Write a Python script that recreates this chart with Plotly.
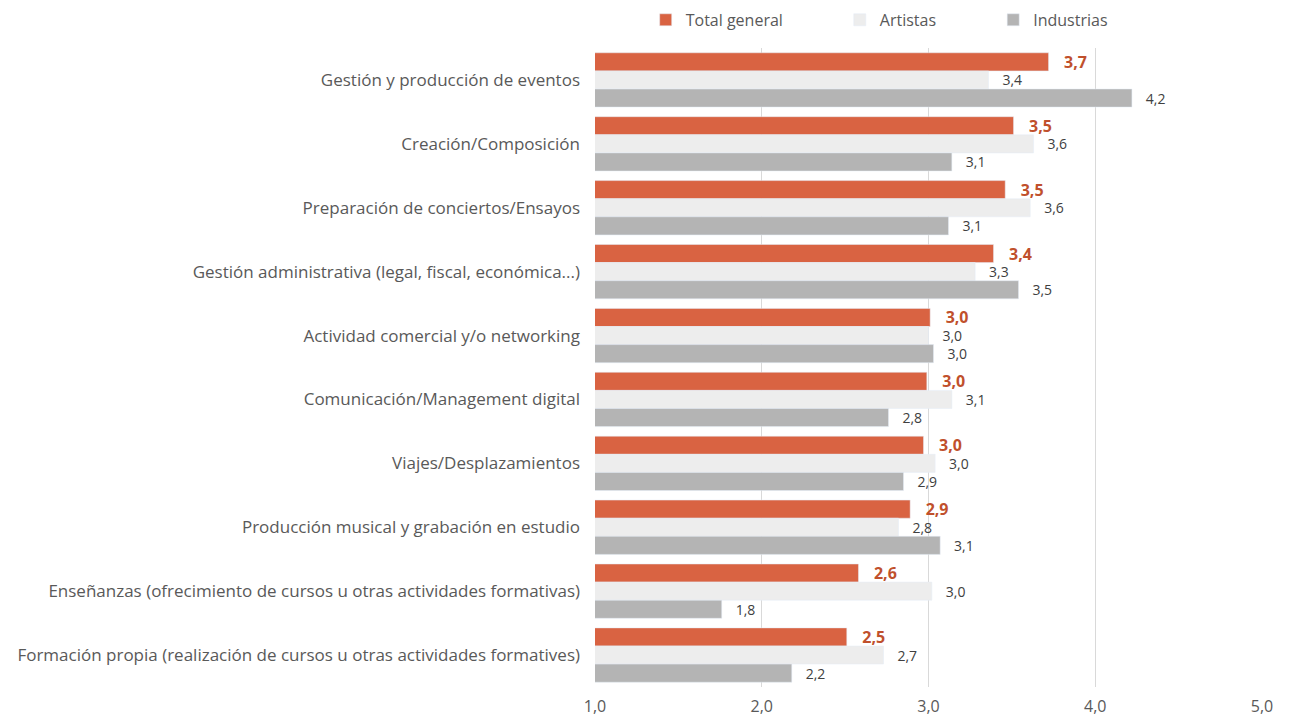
import plotly.graph_objects as go

categorias = [
    "Gestión y producción de eventos",
    "Creación/Composición",
    "Preparación de conciertos/Ensayos",
    "Gestión administrativa (legal, fiscal, económica...)",
    "Actividad comercial y/o networking",
    "Comunicación/Management digital",
    "Viajes/Desplazamientos",
    "Producción musical y grabación en estudio",
    "Enseñanzas (ofrecimiento de cursos u otras actividades formativas)",
    "Formación propia (realización de cursos u otras actividades formatives)",
]
total_general = [3.72, 3.51, 3.46, 3.39, 3.01, 2.99, 2.97, 2.89, 2.58, 2.51]
artistas = [3.36, 3.63, 3.61, 3.28, 3.00, 3.14, 3.04, 2.82, 3.02, 2.73]
industrias = [4.22, 3.14, 3.12, 3.54, 3.03, 2.76, 2.85, 3.07, 1.76, 2.18]
ticks = [1, 2, 3, 4, 5]

FONT = "Open Sans"
GRIS = "#595959"
PAD = "\u00a0\u00a0\u00a0"  # hueco entre barra y etiqueta

fig = go.Figure()
fig.add_trace(go.Bar(
    y=categorias, x=total_general, name="Total general", orientation="h",
    marker_color="#D96342", texttemplate=PAD + "%{x:.1f}", textposition="outside",
    textfont=dict(family=FONT, size=16, color="#C0502C", weight="bold"),
    legend="legend", cliponaxis=False, constraintext="none", showlegend=True,
))
fig.add_trace(go.Bar(
    y=categorias, x=artistas, name="Artistas", orientation="h",
    marker_color="#EDEDED", texttemplate=PAD + "%{x:.1f}", textposition="outside",
    textfont=dict(family=FONT, size=14, color="#404040"),
    legend="legend2", cliponaxis=False, constraintext="none", showlegend=True,
))
fig.add_trace(go.Bar(
    y=categorias, x=industrias, name="Industrias", orientation="h",
    marker_color="#B4B4B4", texttemplate=PAD + "%{x:.1f}", textposition="outside",
    textfont=dict(family=FONT, size=14, color="#404040"),
    legend="legend3", cliponaxis=False, constraintext="none", showlegend=True,
))

leg = dict(orientation="h", yanchor="middle", xanchor="left",
           font=dict(family=FONT, size=16, color=GRIS), bgcolor="rgba(0,0,0,0)")
fig.update_layout(
    width=1294, height=721,
    margin=dict(l=595, r=32, t=48, b=34, autoexpand=False),
    paper_bgcolor="white", plot_bgcolor="white",
    separators=",.",
    showlegend=True,
    barmode="group", bargap=0.15, bargroupgap=0,
    font=dict(family=FONT, size=16, color=GRIS),
    legend=dict(leg, x=0.076, y=1.044),
    legend2=dict(leg, x=0.367, y=1.044),
    legend3=dict(leg, x=0.597, y=1.044),
    xaxis=dict(range=[1, 5], tickvals=ticks, tickformat=".1f",
               showgrid=True, gridcolor="#D9D9D9", gridwidth=1,
               zeroline=False, showline=False, ticks="", automargin=False,
               tickfont=dict(size=16, color=GRIS), ticklabelstandoff=8),
    yaxis=dict(autorange="reversed", showgrid=False, ticks="", automargin=False,
               tickfont=dict(size=17, color=GRIS), ticklabelstandoff=14),
)

# sin el margen por defecto del <body>
fig.write_html("out.html", config={"displayModeBar": False},
               post_script="document.body.style.margin='0';")
